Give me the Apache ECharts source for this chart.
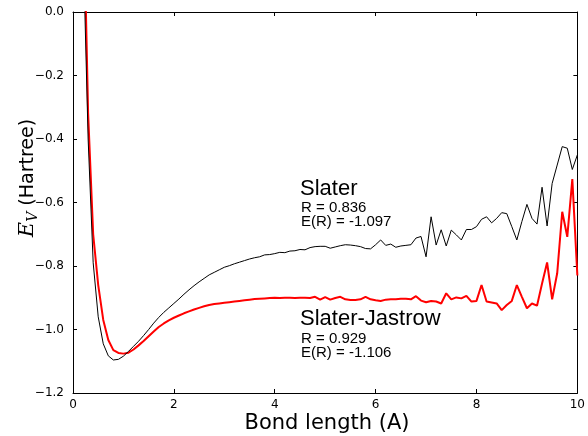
<!DOCTYPE html>
<html>
<head>
<meta charset="utf-8">
<script src="https://cdn.jsdelivr.net/npm/echarts@6/dist/echarts.min.js"></script>
<style>
  html, body { margin: 0; padding: 0; background: #fff; }
  #chart { width: 588px; height: 436px; }
</style>
</head>
<body>
<div id="chart"></div>
<script>
// Bond lengths (A)
const bondLength = [
  0.2, 0.3, 0.4, 0.5, 0.6, 0.7, 0.8, 0.9,
  1.0, 1.1, 1.2, 1.3, 1.4, 1.5, 1.6, 1.7, 1.8, 1.9,
  2.0, 2.1, 2.2, 2.3, 2.4, 2.5, 2.6, 2.7, 2.8, 2.9,
  3.0, 3.1, 3.2, 3.3, 3.4, 3.5, 3.6, 3.7, 3.8, 3.9,
  4.0, 4.1, 4.2, 4.3, 4.4, 4.5, 4.6, 4.7, 4.8, 4.9,
  5.0, 5.1, 5.2, 5.3, 5.4, 5.5, 5.6, 5.7, 5.8, 5.9,
  6.0, 6.1, 6.2, 6.3, 6.4, 6.5, 6.6, 6.7, 6.8, 6.9,
  7.0, 7.1, 7.2, 7.3, 7.4, 7.5, 7.6, 7.7, 7.8, 7.9,
  8.0, 8.1, 8.2, 8.3, 8.4, 8.5, 8.6, 8.7, 8.8, 8.9,
  9.0, 9.1, 9.2, 9.3, 9.4, 9.5, 9.6, 9.7, 9.8, 9.9,
  10.0
];

// Variational energy, Slater determinant only (Hartree)
const slaterEnergy = [
  0.22, -0.40, -0.79, -0.96, -1.045, -1.083, -1.096, -1.094,
  -1.084, -1.069, -1.053, -1.037, -1.019, -1.000, -0.980, -0.962, -0.946, -0.932,
  -0.918, -0.904, -0.889, -0.875, -0.862, -0.850, -0.839, -0.828, -0.820, -0.812,
  -0.804, -0.799, -0.793, -0.788, -0.783, -0.778, -0.774, -0.771, -0.765, -0.764,
  -0.761, -0.757, -0.758, -0.753, -0.752, -0.748, -0.749, -0.742, -0.739, -0.738,
  -0.738, -0.744, -0.740, -0.736, -0.733, -0.734, -0.736, -0.739, -0.745, -0.746,
  -0.733, -0.718, -0.735, -0.731, -0.741, -0.737, -0.735, -0.733, -0.712, -0.707,
  -0.771, -0.645, -0.734, -0.686, -0.737, -0.687, -0.702, -0.718, -0.685, -0.685,
  -0.676, -0.653, -0.645, -0.664, -0.650, -0.632, -0.635, -0.676, -0.718, -0.660,
  -0.606, -0.650, -0.668, -0.552, -0.674, -0.540, -0.482, -0.424, -0.429, -0.496,
  -0.450
];

// Variational energy, Slater-Jastrow wavefunction (Hartree)
const jastrowEnergy = [
  0.41, -0.32, -0.70, -0.86, -0.97, -1.033, -1.065, -1.074,
  -1.076, -1.073, -1.063, -1.050, -1.036, -1.021, -1.006, -0.992, -0.981, -0.971,
  -0.963, -0.956, -0.949, -0.943, -0.937, -0.932, -0.927, -0.923, -0.920, -0.918,
  -0.916, -0.914, -0.912, -0.910, -0.908, -0.906, -0.904, -0.903, -0.902, -0.901,
  -0.900, -0.901, -0.900, -0.900, -0.901, -0.900, -0.900, -0.901, -0.897, -0.906,
  -0.898, -0.906, -0.901, -0.897, -0.905, -0.907, -0.907, -0.905, -0.897, -0.905,
  -0.908, -0.910, -0.906, -0.905, -0.905, -0.903, -0.903, -0.905, -0.895, -0.909,
  -0.914, -0.910, -0.912, -0.918, -0.886, -0.905, -0.899, -0.902, -0.894, -0.912,
  -0.910, -0.860, -0.912, -0.915, -0.918, -0.939, -0.923, -0.910, -0.860, -0.897,
  -0.933, -0.918, -0.925, -0.855, -0.789, -0.905, -0.823, -0.629, -0.708, -0.526,
  -0.830
];

// Fitted minimum of each curve
const slaterFit = { R: '0.836', E: '-1.097' };
const jastrowFit = { R: '0.929', E: '-1.106' };

const xTicks = [0, 2, 4, 6, 8, 10];
const yTicks = [0.0, -0.2, -0.4, -0.6, -0.8, -1.0, -1.2];

const pair = (ys) => bondLength.map((x, i) => [x, ys[i]]);

const tickFont = 'DejaVu Sans';
const annFont = 'Liberation Sans, Arial, sans-serif';

const baseX = {
  type: 'value', min: xTicks[0], max: xTicks[xTicks.length - 1], interval: 2,
  splitLine: { show: false },
  axisLine: { show: true, onZero: false, lineStyle: { color: '#000', width: 1 } },
  axisTick: { show: true, inside: true, length: 4, lineStyle: { color: '#000' } }
};
const baseY = {
  type: 'value', min: yTicks[yTicks.length - 1], max: yTicks[0], interval: 0.2,
  splitLine: { show: false },
  axisLine: { show: true, onZero: false, lineStyle: { color: '#000', width: 1 } },
  axisTick: { show: true, inside: true, length: 4, lineStyle: { color: '#000' } }
};

const chart = echarts.init(document.getElementById('chart'), null, { renderer: 'canvas' });

chart.setOption({
  animation: false,
  backgroundColor: '#fff',
  grid: { left: 73, right: 7, top: 12, bottom: 43, containLabel: false },
  xAxis: [
    Object.assign({}, baseX, {
      position: 'bottom',
      axisLabel: {
        show: true, margin: 6, color: '#000', fontFamily: tickFont, fontSize: 12,
        formatter: (v) => String(v)
      }
    }),
    Object.assign({}, baseX, { position: 'top', axisLabel: { show: false } })
  ],
  yAxis: [
    Object.assign({}, baseY, {
      position: 'left',
      axisLabel: {
        show: true, margin: 9, color: '#000', fontFamily: tickFont, fontSize: 12,
        formatter: (v) => v.toFixed(1).replace('-', '\u2212')
      }
    }),
    Object.assign({}, baseY, { position: 'right', axisLabel: { show: false } })
  ],
  series: [
    {
      name: 'Slater-Jastrow', type: 'line', data: pair(jastrowEnergy),
      showSymbol: false, symbol: 'none', clip: true, z: 2,
      lineStyle: { color: '#ff0000', width: 2 }
    },
    {
      name: 'Slater', type: 'line', data: pair(slaterEnergy),
      showSymbol: false, symbol: 'none', clip: true, z: 3,
      lineStyle: { color: '#000000', width: 1 }
    }
  ],
  graphic: [
    {
      type: 'text', x: 327, y: 424,
      style: {
        text: 'Bond length (A)', fill: '#000', font: '21px "DejaVu Sans"',
        align: 'center', verticalAlign: 'middle'
      }
    },
    {
      type: 'text', x: 28, y: 178, rotation: Math.PI / 2,
      style: {
        text: '{e|E}{v|V}{h| (Hartree)}', align: 'center', verticalAlign: 'middle', fill: '#000',
        rich: {
          e: { fontFamily: 'DejaVu Serif', fontStyle: 'italic', fontSize: 21, fill: '#000' },
          v: { fontFamily: 'DejaVu Serif', fontStyle: 'italic', fontSize: 14, fill: '#000', padding: [10, 0, 0, 0] },
          h: { fontFamily: 'DejaVu Sans', fontSize: 19, fill: '#000' }
        }
      }
    },
    { type: 'text', x: 300, y: 189, style: { text: 'Slater', fill: '#000', font: '22px ' + annFont, align: 'left', verticalAlign: 'middle' } },
    { type: 'text', x: 301, y: 208, style: { text: 'R = ' + slaterFit.R, fill: '#000', font: '15px ' + annFont, align: 'left', verticalAlign: 'middle' } },
    { type: 'text', x: 301, y: 222, style: { text: 'E(R) = ' + slaterFit.E, fill: '#000', font: '15px ' + annFont, align: 'left', verticalAlign: 'middle' } },
    { type: 'text', x: 300, y: 319, style: { text: 'Slater-Jastrow', fill: '#000', font: '22px ' + annFont, align: 'left', verticalAlign: 'middle' } },
    { type: 'text', x: 301, y: 339, style: { text: 'R = ' + jastrowFit.R, fill: '#000', font: '15px ' + annFont, align: 'left', verticalAlign: 'middle' } },
    { type: 'text', x: 301, y: 352.5, style: { text: 'E(R) = ' + jastrowFit.E, fill: '#000', font: '15px ' + annFont, align: 'left', verticalAlign: 'middle' } }
  ]
});
</script>
</body>
</html>
